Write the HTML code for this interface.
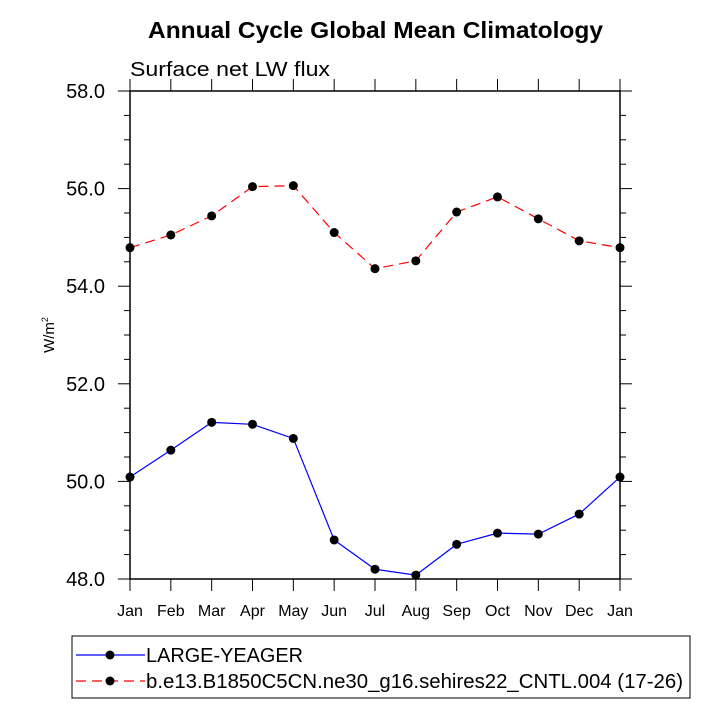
<!DOCTYPE html>
<html><head><meta charset="utf-8"><style>
body{margin:0;background:#fff}
svg{font-family:"Liberation Sans",Arial,sans-serif}
</style></head><body>
<svg width="720" height="720" viewBox="0 0 720 720" xmlns="http://www.w3.org/2000/svg">
<text x="148" y="38" font-size="23" font-weight="bold" textLength="455" lengthAdjust="spacingAndGlyphs">Annual Cycle Global Mean Climatology</text>
<text x="130" y="76" font-size="20" textLength="200" lengthAdjust="spacingAndGlyphs">Surface net LW flux</text>
<text transform="translate(54,335) rotate(-90)" font-size="15" text-anchor="middle">W/m<tspan font-size="9" dy="-6">2</tspan></text>
<g id="axes"></g>
<g id="series"></g>
<g>
<rect x="72" y="636" width="618" height="62" fill="#fff" stroke="#000" stroke-width="1"/>
<line x1="76" y1="655" x2="145" y2="655" stroke="#00f" stroke-width="1.2"/>
<circle cx="110" cy="655" r="4.5" fill="#000"/>
<text x="146" y="662" font-size="20" textLength="157" lengthAdjust="spacingAndGlyphs">LARGE-YEAGER</text>
<line x1="76" y1="681" x2="145" y2="681" stroke="#f00" stroke-width="1.2" stroke-dasharray="10,6"/>
<circle cx="110" cy="681" r="4.5" fill="#000"/>
<text x="146" y="688" font-size="20" textLength="537" lengthAdjust="spacingAndGlyphs">b.e13.B1850C5CN.ne30_g16.sehires22_CNTL.004 (17-26)</text>
</g>
</svg>
<script>
const months=["Jan","Feb","Mar","Apr","May","Jun","Jul","Aug","Sep","Oct","Nov","Dec","Jan"];
const yTicks=[48,50,52,54,56,58];
const yTickLabels=["48.0","50.0","52.0","54.0","56.0","58.0"];
const obsValues=[50.09,50.64,51.21,51.17,50.88,48.80,48.20,48.08,48.71,48.94,48.92,49.33,50.09];
const cntlValues=[54.79,55.05,55.44,56.04,56.06,55.10,54.36,54.52,55.52,55.83,55.38,54.93,54.79];
const L=130,R=620,T=91,B=579,ymin=48,ymax=58;
const xs=i=>L+(R-L)*i/(months.length-1);
const ys=v=>B-(v-ymin)/(ymax-ymin)*(B-T);
const NS="http://www.w3.org/2000/svg";
function mk(tag,attrs,parent){const e=document.createElementNS(NS,tag);for(const k in attrs)e.setAttribute(k,attrs[k]);parent.appendChild(e);return e;}
const ax=document.getElementById('axes');
const frame=mk('rect',{x:L,y:T,width:R-L,height:B-T,fill:'none',stroke:'#000','stroke-width':1.5},ax);


months.forEach((m,i)=>{
  const x=xs(i);
  mk('line',{x1:x,y1:B,x2:x,y2:B+12,stroke:'#000','stroke-width':1},ax);
  mk('line',{x1:x,y1:T,x2:x,y2:T-12,stroke:'#000','stroke-width':1},ax);
  const t=mk('text',{x:x,y:B+37,'font-size':16,'text-anchor':'middle'},ax);
  
  
  t.textContent=m;
});
for(let v=ymin;v<=ymax+1e-9;v+=0.5){
  const y=ys(v);const major=Math.abs(v/2-Math.round(v/2))<1e-6;
  const len=major?12:6;
  mk('line',{x1:L,y1:y,x2:L-len,y2:y,stroke:'#000','stroke-width':1},ax);
  mk('line',{x1:R,y1:y,x2:R+len,y2:y,stroke:'#000','stroke-width':1},ax);
}
yTicks.forEach((v,i)=>{
  const t=mk('text',{x:L-25,y:ys(v)+7,'font-size':20,'text-anchor':'end'},ax);
  
  
  t.textContent=yTickLabels[i];
});
const sg=document.getElementById('series');
function drawSeries(vals,color,dash,name){
  const p=mk('polyline',{points:vals.map((v,i)=>xs(i)+','+ys(v)).join(' '),fill:'none',stroke:color,'stroke-width':1.2,'stroke-dasharray':dash},sg);
  
  
  vals.forEach((v,i)=>{
    const c=mk('circle',{cx:xs(i),cy:ys(v),r:4.5,fill:'#000'},sg);
    
    
  });
}
drawSeries(cntlValues,'#f00','10,6','cntl');
drawSeries(obsValues,'#00f','none','large-yeager');
</script>
</body></html>
